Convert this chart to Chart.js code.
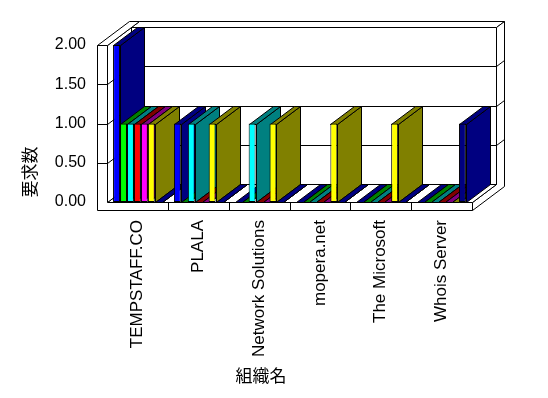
<!DOCTYPE html>
<html>
<head>
<meta charset="utf-8">
<script src="https://cdn.jsdelivr.net/npm/chart.js@4.4.1/dist/chart.umd.min.js"></script>
<style>
  body { margin: 0; background: #fff; }
</style>
</head>
<body>
<canvas id="reqChart" width="548" height="398"></canvas>
<script>
const orgs = ['TEMPSTAFF.CO', 'PLALA', 'Network Solutions', 'mopera.net', 'The Microsoft', 'Whois Server'];

const series1 = [2, 1, 0, 0, 0, 0];
const series2 = [1, 0, 0, 0, 0, 0];
const series3 = [1, 1, 1, 0, 0, 0];
const series4 = [1, 0, 0, 0, 0, 0];
const series5 = [1, 0, 0, 0, 0, 0];
const series6 = [1, 1, 1, 1, 1, 0];
const series7 = [0, 0, 0, 0, 0, 1];

const seriesNames = ['系列1', '系列2', '系列3', '系列4', '系列5', '系列6', '系列7'];
const yTicks = [0, 0.5, 1, 1.5, 2];

const frontColors = ['#0000ff', '#00ff00', '#00ffff', '#ff0000', '#ff00ff', '#ffff00', '#000080'];
const sideColors = ['#000080', '#008000', '#008080', '#800000', '#800080', '#808000', '#000080'];

// depth of the box and bars (px), back wall thickness
const DX = 24, DY = -18;
const TX = 8, TY = -6;

const px = v => Math.round(v) + 0.5;

function poly(ctx, pts, fill) {
    ctx.beginPath();
    pts.forEach((p, i) => i ? ctx.lineTo(px(p[0]), px(p[1])) : ctx.moveTo(px(p[0]), px(p[1])));
    ctx.closePath();
    ctx.fillStyle = fill;
    ctx.fill();
    ctx.stroke();
}

function seg(ctx, x1, y1, x2, y2) {
    ctx.beginPath();
    ctx.moveTo(px(x1), px(y1));
    ctx.lineTo(px(x2), px(y2));
    ctx.stroke();
}

const box3d = {
    id: 'box3d',
    beforeDatasetsDraw(chart) {
        const ctx = chart.ctx;
        const { left: L, right: R, top: T, bottom: B } = chart.chartArea;
        const ys = chart.scales.y;
        const xs = chart.scales.x;
        ctx.save();
        ctx.strokeStyle = '#000';
        ctx.lineWidth = 1;

        // back wall
        poly(ctx, [[L + DX, T + DY], [R + DX, T + DY], [R + DX, B + DY], [L + DX, B + DY]], '#fff');
        poly(ctx, [[L + DX, T + DY], [R + DX, T + DY], [R + DX + TX, T + DY + TY], [L + DX + TX, T + DY + TY]], '#fff');
        poly(ctx, [[R + DX, T + DY], [R + DX + TX, T + DY + TY], [R + DX + TX, B + DY + 2], [R, B + 8], [R, B], [R + DX, B + DY]], '#fff');
        // floor
        poly(ctx, [[L, B], [R, B], [R + DX, B + DY], [L + DX, B + DY]], '#fff');
        // left wall inner face
        poly(ctx, [[L, T], [L + DX, T + DY], [L + DX, B + DY], [L, B]], '#fff');
        // left wall top
        poly(ctx, [[L - 10, T], [L, T], [L + DX + TX, T + DY + TY], [L - 10 + DX + TX, T + DY + TY]], '#fff');
        // left wall + floor front faces
        poly(ctx, [[L - 10, T], [L, T], [L, B], [R, B], [R, B + 8], [L - 10, B + 8]], '#fff');

        // grid lines
        yTicks.forEach(v => {
            const y = ys.getPixelForValue(v);
            if (v > 0 && v < 2) {
                seg(ctx, L + DX, y + DY, R + DX, y + DY);
                seg(ctx, R + DX, y + DY, R + DX + TX, y + DY + TY);
                seg(ctx, L, y, L + DX, y + DY);
                seg(ctx, L - 10, y, L, y);
            }
        });

        // category dividers on floor front
        for (let i = 1; i < orgs.length; i++) {
            const x = (xs.getPixelForValue(i - 1) + xs.getPixelForValue(i)) / 2;
            seg(ctx, x, B, x, B + 8);
        }

        // bar sides and tops, left to right
        for (let c = 0; c < orgs.length; c++) {
            chart.data.datasets.forEach((ds, d) => {
                const bar = chart.getDatasetMeta(d).data[c];
                const x0 = bar.x - bar.width / 2;
                const x1 = bar.x + bar.width / 2;
                const top = bar.y, base = bar.base;
                const col = sideColors[d];
                poly(ctx, [[x1, top], [x1 + DX, top + DY], [x1 + DX, base + DY], [x1, base]], col);
                poly(ctx, [[x0, top], [x1, top], [x1 + DX, top + DY], [x0 + DX, top + DY]], col);
            });
        }
        ctx.restore();
    },
    afterDraw(chart) {
        const ctx = chart.ctx;
        ctx.save();
        ctx.fillStyle = '#000';
        ctx.font = '17px "Noto Sans CJK JP"';
        ctx.textAlign = 'center';
        ctx.textBaseline = 'middle';
        ctx.fillText('組織名', 261, 376);
        ctx.translate(30, 172);
        ctx.rotate(-Math.PI / 2);
        ctx.fillText('要求数', 0, 0);
        ctx.restore();
    }
};

const allSeries = [series1, series2, series3, series4, series5, series6, series7];

const reqData = {
    labels: orgs,
    datasets: allSeries.map((s, i) => ({
        label: seriesNames[i],
        data: s,
        backgroundColor: frontColors[i],
        borderColor: '#000',
        borderWidth: 1,
        borderSkipped: false,
        categoryPercentage: 0.8,
        barPercentage: 1.0
    }))
};

const reqConfig = {
    type: 'bar',
    data: reqData,
    options: {
        responsive: false,
        animation: false,
        devicePixelRatio: 1,
        layout: {
            padding: { top: 45, right: 76, left: 0, bottom: 0 }
        },
        plugins: {
            legend: { display: false },
            tooltip: { enabled: false }
        },
        scales: {
            x: {
                grid: { display: false, drawTicks: false },
                border: { display: false },
                ticks: {
                    color: '#000',
                    font: { family: 'Liberation Sans', size: 17 },
                    minRotation: 90,
                    maxRotation: 90,
                    autoSkip: false,
                    padding: 18
                },
                afterFit: scale => { scale.height = 196; }
            },
            y: {
                min: 0,
                max: 2,
                grid: { display: false, drawTicks: false },
                border: { display: false },
                ticks: {
                    stepSize: 0.5,
                    color: '#000',
                    font: { family: 'Liberation Sans', size: 16 },
                    padding: 21,
                    callback: v => v.toFixed(2)
                },
                afterFit: scale => { scale.width = 107; }
            }
        }
    },
    plugins: [box3d]
};

const reqChart = new Chart(document.getElementById('reqChart'), reqConfig);
</script>
</body>
</html>
